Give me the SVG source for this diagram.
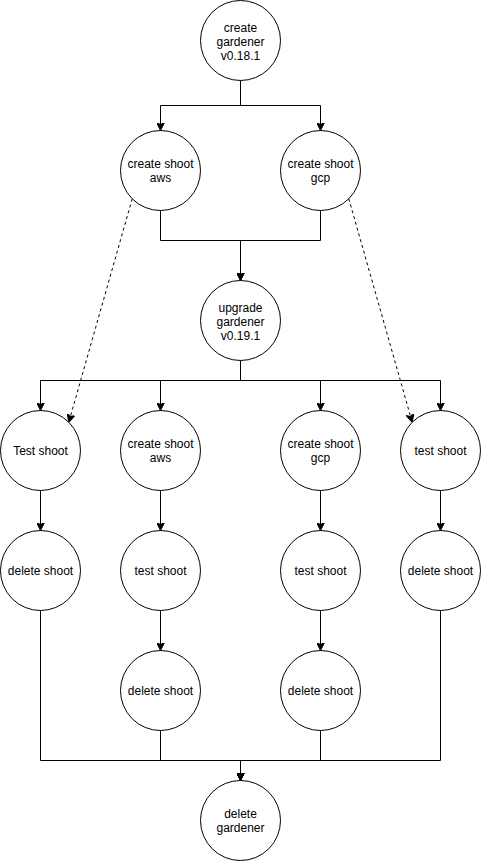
<svg xmlns="http://www.w3.org/2000/svg" width="481" height="861" viewBox="0 0 481 861">
<style>
.node circle{fill:#fff;stroke:#000;stroke-width:1}
.node text{font-family:"Liberation Sans",Arial,Helvetica,sans-serif;font-size:12px;fill:#000;text-anchor:middle}
.edge{fill:none;stroke:#000;stroke-width:1;marker-end:url(#arrow)}
.dash{stroke-dasharray:3 3}
</style>
<defs>
<marker id="arrow" viewBox="0 0 8 8" refX="8" refY="4" markerWidth="8" markerHeight="8" markerUnits="userSpaceOnUse" orient="auto">
<path d="M0,0 L8,4 L0,8 L2,4 Z" fill="#000" stroke="#000" stroke-width="1" stroke-dasharray="none"/>
</marker>
</defs>
<rect width="481" height="861" fill="#fff"/>
<g transform="translate(0.5,0.5)">
<g id="connectors">
<path class="edge" d="M240,80 V105 H160 V130"/>
<path class="edge" d="M240,80 V105 H320 V130"/>
<path class="edge" d="M160,210 V240 H240 V280"/>
<path class="edge" d="M320,210 V240 H240 V280"/>
<path class="edge" d="M240,360 V380 H40 V410"/>
<path class="edge" d="M240,360 V380 H160 V410"/>
<path class="edge" d="M240,360 V380 H320 V410"/>
<path class="edge" d="M240,360 V380 H440 V410"/>
<path class="edge" d="M40,490 V530"/>
<path class="edge" d="M160,490 V530"/>
<path class="edge" d="M320,490 V530"/>
<path class="edge" d="M440,490 V530"/>
<path class="edge" d="M160,610 V650"/>
<path class="edge" d="M320,610 V650"/>
<path class="edge" d="M40,610 V760 H240 V780"/>
<path class="edge" d="M160,730 V760 H240 V780"/>
<path class="edge" d="M320,730 V760 H240 V780"/>
<path class="edge" d="M440,610 V760 H240 V780"/>
<path class="edge dash" d="M131.7,198.3 L68.3,421.7"/>
<path class="edge dash" d="M348.3,198.3 L411.7,421.7"/>
</g>
<g id="create-gardener" class="node"><circle cx="240" cy="40" r="40"/><text x="240" y="31">create</text><text x="240" y="45">gardener</text><text x="240" y="59">v0.18.1</text></g>
<g id="create-shoot-aws-1" class="node"><circle cx="160" cy="170" r="40"/><text x="160" y="167">create shoot</text><text x="160" y="181">aws</text></g>
<g id="create-shoot-gcp-1" class="node"><circle cx="320" cy="170" r="40"/><text x="320" y="167">create shoot</text><text x="320" y="181">gcp</text></g>
<g id="upgrade-gardener" class="node"><circle cx="240" cy="320" r="40"/><text x="240" y="311">upgrade</text><text x="240" y="325">gardener</text><text x="240" y="339">v0.19.1</text></g>
<g id="test-shoot-aws-1" class="node"><circle cx="40" cy="450" r="40"/><text x="40" y="454">Test shoot</text></g>
<g id="create-shoot-aws-2" class="node"><circle cx="160" cy="450" r="40"/><text x="160" y="447">create shoot</text><text x="160" y="461">aws</text></g>
<g id="create-shoot-gcp-2" class="node"><circle cx="320" cy="450" r="40"/><text x="320" y="447">create shoot</text><text x="320" y="461">gcp</text></g>
<g id="test-shoot-gcp-1" class="node"><circle cx="440" cy="450" r="40"/><text x="440" y="454">test shoot</text></g>
<g id="delete-shoot-aws-1" class="node"><circle cx="40" cy="570" r="40"/><text x="40" y="574">delete shoot</text></g>
<g id="test-shoot-aws-2" class="node"><circle cx="160" cy="570" r="40"/><text x="160" y="574">test shoot</text></g>
<g id="test-shoot-gcp-2" class="node"><circle cx="320" cy="570" r="40"/><text x="320" y="574">test shoot</text></g>
<g id="delete-shoot-gcp-1" class="node"><circle cx="440" cy="570" r="40"/><text x="440" y="574">delete shoot</text></g>
<g id="delete-shoot-aws-2" class="node"><circle cx="160" cy="690" r="40"/><text x="160" y="694">delete shoot</text></g>
<g id="delete-shoot-gcp-2" class="node"><circle cx="320" cy="690" r="40"/><text x="320" y="694">delete shoot</text></g>
<g id="delete-gardener" class="node"><circle cx="240" cy="820" r="40"/><text x="240" y="817">delete</text><text x="240" y="831">gardener</text></g>
</g>
</svg>
